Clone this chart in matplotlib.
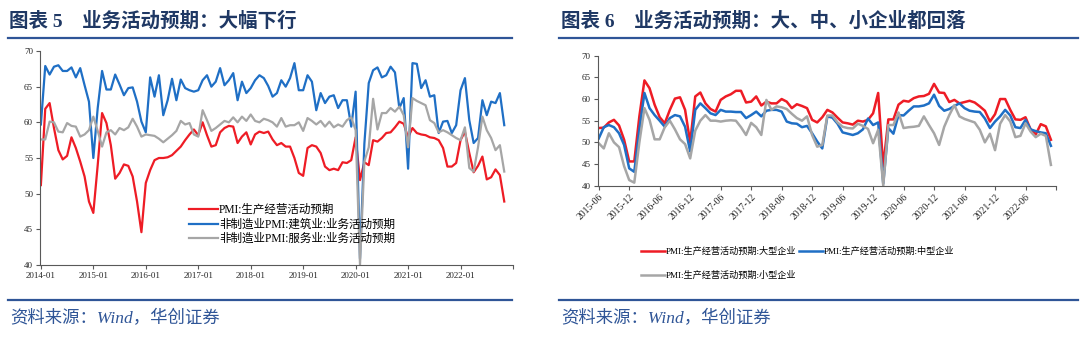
import matplotlib
matplotlib.use('Agg')
import matplotlib.pyplot as plt
import numpy as np

plt.rcParams['font.family'] = ['Liberation Serif', 'Noto Sans CJK SC']
plt.rcParams['axes.unicode_minus'] = False

# ---- left panel: 2014-01 .. 2022-11, monthly ----
left_ticks = ['2014-01', '2015-01', '2016-01', '2017-01', '2018-01',
              '2019-01', '2020-01', '2021-01', '2022-01']
pmi_expect = [51.2, 61.9, 62.7, 59.2, 56.1, 54.8, 55.3, 57.9, 56.4, 54.5, 52.4, 48.9, 47.3,
              54.0, 61.3, 59.9, 56.8, 52.1, 52.9, 54.1, 53.9, 52.4, 48.9, 44.6,
              51.5, 53.3, 54.7, 55.0, 55.0, 55.1, 55.4, 56.0, 56.6, 57.5, 58.3, 59.0,
              58.2, 60.0, 58.2, 56.6, 56.8, 58.6, 59.2, 59.5, 59.4, 57.1, 58.0, 58.6,
              56.9, 58.3, 58.7, 58.5, 58.7, 57.6, 56.8, 57.1, 56.6, 56.6, 55.0, 52.9,
              52.5, 56.4, 56.8, 56.6, 55.7, 53.8, 53.3, 53.5, 53.3, 54.4, 54.3, 54.7,
              57.9, 51.9, 54.4, 54.0, 57.5, 57.3, 57.8, 58.5, 58.6, 59.3, 60.1, 59.8,
              57.9, 59.2, 58.5, 58.3, 58.2, 57.9, 57.8, 57.5, 56.4, 53.8, 53.8, 54.3,
              57.5, 58.7, 55.7, 53.0, 53.9, 55.2, 52.0, 52.3, 53.4, 52.6, 48.9]
construction = [59.7, 67.9, 66.7, 67.8, 68.0, 67.2, 67.2, 67.7, 66.3, 67.6, 65.2, 62.9, 55.0,
                62.0, 67.2, 64.6, 64.6, 66.7, 65.3, 63.8, 64.8, 64.9, 62.9, 60.1,
                58.6, 66.3, 63.6, 66.6, 61.0, 63.1, 66.1, 63.1, 66.0, 64.8, 64.5, 64.3,
                64.5, 65.9, 66.6, 65.0, 65.7, 67.6, 65.2, 65.9, 66.9, 63.1, 65.7, 64.1,
                64.8, 65.9, 66.6, 66.2, 65.1, 63.6, 64.1, 65.9, 65.0, 66.2, 68.3, 64.5,
                64.5, 66.6, 65.7, 61.7, 64.1, 62.7, 63.6, 63.8, 62.0, 63.1, 63.1, 59.4,
                64.3, 40.9, 57.0, 65.5, 67.3, 67.7, 66.3, 66.6, 67.8, 67.0, 62.0, 63.4,
                53.5, 68.3, 68.2, 64.8, 65.9, 63.6, 63.8, 58.5, 60.1, 60.2, 58.5, 59.6,
                64.5, 66.2, 60.3, 57.1, 57.8, 63.1, 61.0, 62.9, 62.7, 64.1, 59.6]
services = [57.6, 57.6, 60.1, 60.0, 58.7, 58.6, 59.9, 59.5, 59.4, 58.0, 58.3, 58.9, 60.8,
            58.8, 56.6, 58.6, 58.9, 58.3, 59.2, 58.9, 59.3, 60.5, 59.4, 58.0,
            58.3, 58.2, 58.1, 57.7, 57.2, 57.7, 58.2, 58.8, 60.2, 59.7, 59.9, 58.3,
            58.0, 61.7, 60.3, 58.8, 59.2, 59.7, 60.2, 60.0, 60.7, 60.0, 60.8, 60.2,
            61.1, 60.2, 60.0, 60.5, 60.3, 60.0, 59.4, 60.6, 59.4, 59.6, 59.6, 60.0,
            58.8, 60.6, 60.2, 59.7, 60.2, 59.4, 60.1, 59.3, 59.7, 59.4, 60.3, 60.7,
            58.9, 40.0, 54.5, 56.5, 63.3, 59.0, 61.3, 61.3, 62.0, 61.5, 62.2, 61.0,
            56.5, 63.4, 63.0, 62.7, 62.4, 60.3, 59.9, 58.6, 58.9, 58.6, 58.2, 57.8,
            57.5, 59.3, 53.6, 53.1, 56.5, 60.8, 58.9, 57.8, 56.1, 56.8, 53.1]

# ---- right panel: 2015-06 .. 2022-11, monthly ----
right_ticks = ['2015-06', '2015-12', '2016-06', '2016-12', '2017-06', '2017-12', '2018-06',
               '2018-12', '2019-06', '2019-12', '2020-06', '2020-12', '2021-06', '2021-12',
               '2022-06']
large = [53.3, 53.4, 54.6, 55.2, 53.9, 50.6, 45.6, 45.6, 56.0, 64.3, 62.5, 58.7,
         55.8, 54.4, 57.5, 60.1, 60.4, 57.5, 50.0, 60.6, 61.5, 59.0, 57.7, 57.1,
         59.8, 60.6, 61.1, 61.9, 61.9, 59.2, 59.4, 60.6, 58.5, 59.4, 59.0, 59.0,
         60.0, 59.4, 57.9, 58.8, 58.4, 57.9, 55.2, 54.6, 55.8, 57.5, 56.9, 55.7,
         54.6, 54.4, 54.1, 55.0, 54.8, 55.2, 56.7, 61.4, 44.4, 55.3, 55.3, 58.7,
         59.6, 59.4, 60.2, 60.6, 60.7, 61.2, 63.5, 61.5, 61.4, 59.3, 59.8, 59.0,
         59.3, 59.6, 59.2, 58.3, 57.3, 54.8, 56.5, 60.0, 60.0, 57.5, 55.3, 55.2,
         55.8, 53.0, 51.8, 54.2, 53.7, 50.6]
medium = [50.9, 53.5, 54.0, 53.5, 52.1, 49.4, 44.0, 43.2, 53.0, 61.4, 57.9, 56.3,
          55.0, 53.6, 55.6, 56.3, 56.0, 53.6, 47.9, 57.5, 59.0, 57.9, 56.7, 56.3,
          57.5, 57.1, 57.1, 57.0, 57.0, 55.6, 56.3, 57.1, 56.0, 57.3, 57.5, 57.5,
          57.1, 54.8, 54.4, 54.3, 53.5, 53.8, 52.1, 50.2, 48.6, 56.0, 55.7, 54.3,
          52.3, 52.0, 51.7, 52.1, 53.0, 55.5, 54.0, 54.6, 40.5, 53.3, 52.0, 56.3,
          56.2, 57.3, 58.3, 58.3, 58.5, 59.0, 61.0, 58.4, 57.3, 57.7, 58.4, 59.0,
          57.9, 57.3, 57.1, 57.0, 55.5, 53.3, 54.8, 56.0, 57.5, 56.2, 53.5, 53.3,
          55.2, 53.0, 52.6, 52.3, 52.1, 49.2]
small = [49.8, 48.6, 52.1, 50.0, 48.9, 44.5, 41.3, 40.7, 50.0, 57.9, 55.2, 50.7,
         50.7, 53.5, 55.0, 53.0, 50.7, 49.6, 46.3, 52.7, 55.0, 56.3, 55.0, 55.0,
         54.8, 55.0, 55.1, 55.0, 53.5, 51.7, 54.5, 53.5, 51.7, 59.8, 57.5, 58.3,
         58.1, 57.7, 56.6, 55.6, 55.0, 56.0, 51.7, 49.0, 49.4, 56.2, 56.2, 54.6,
         53.6, 53.3, 53.2, 54.3, 53.8, 53.1, 49.8, 52.9, 40.0, 54.0, 54.0, 56.9,
         53.3, 53.5, 53.6, 53.8, 56.0, 54.0, 52.1, 49.4, 53.6, 56.3, 58.6, 56.0,
         55.4, 55.0, 54.6, 52.9, 50.0, 52.0, 48.2, 54.3, 56.3, 54.8, 51.2, 51.5,
         54.4, 52.5, 51.2, 52.0, 51.5, 44.8]

RED = '#ee1c25'
BLUE = '#1f6fc5'
GRAY = '#a6a6a6'
NAVY = '#1f3864'
LINE_BLUE = '#2f5597'
AXC = '#595959'

fig = plt.figure(figsize=(10.8, 3.49), dpi=100)
W, H = 1080.0, 349.0

def fx(px):
    return px / W

def fy(py):
    return 1 - py / H

def style_axes(ax):
    ax.spines['top'].set_visible(False)
    ax.spines['right'].set_visible(False)
    for s in ['left', 'bottom']:
        ax.spines[s].set_color(AXC)
        ax.spines[s].set_linewidth(0.8)
    ax.tick_params(direction='out', length=3, width=0.8, colors=AXC,
                   labelcolor='#262626', labelsize=6.5, pad=2)
    ax.set_ylim(40, 70)
    ax.set_yticks(np.arange(40, 71, 5))

# left chart
ax1 = fig.add_axes([fx(40), fy(265), fx(513 - 40), (265 - 51) / H])
x1 = np.arange(len(pmi_expect))
ax1.plot(x1, pmi_expect, color=RED, lw=1.6, label='PMI:生产经营活动预期')
ax1.plot(x1, construction, color=BLUE, lw=1.6, label='非制造业PMI:建筑业:业务活动预期')
ax1.plot(x1, services, color=GRAY, lw=1.6, label='非制造业PMI:服务业:业务活动预期')
style_axes(ax1)
ax1.set_xlim(-0.2, 108)
ax1.set_xticks(list(range(0, 97, 12)) + [108])
ax1.set_xticklabels(left_ticks + [''])
ax1.legend(loc='upper left', bbox_to_anchor=(fx(189), fy(204)), bbox_transform=fig.transFigure,
           frameon=False, fontsize=8.3, handlelength=2.5, handletextpad=0.1,
           labelspacing=0.22, borderpad=0, borderaxespad=0)

# right chart
ax2 = fig.add_axes([fx(597.7), fy(185.7), fx(1056 - 597.7), 130 / H])
x2 = np.arange(len(large))
l1, = ax2.plot(x2, large, color=RED, lw=1.8)
l2, = ax2.plot(x2, medium, color=BLUE, lw=1.8)
l3, = ax2.plot(x2, small, color=GRAY, lw=1.8)
style_axes(ax2)
ax2.set_xlim(-0.2, 90)
ax2.set_xticks(list(range(0, 85, 6)) + [90])
ax2.set_xticklabels(right_ticks + [''], rotation=45, ha='right', rotation_mode='anchor',
                    fontsize=7)
fig.legend([l1, l3, l2], ['PMI:生产经营活动预期:大型企业', 'PMI:生产经营活动预期:小型企业',
                          'PMI:生产经营活动预期:中型企业'],
           loc='upper left', bbox_to_anchor=(fx(641), fy(247)), ncol=2,
           frameon=False, fontsize=6.6, handlelength=2.6, handletextpad=0.1,
           labelspacing=1.6, columnspacing=0.3, borderpad=0, borderaxespad=0)

# headers and footers
fig.text(fx(9), fy(21), '图表 5    业务活动预期：大幅下行', fontsize=14, fontweight='bold',
         color=NAVY, va='center', ha='left')
fig.text(fx(561), fy(21), '图表 6    业务活动预期：大、中、小企业都回落', fontsize=14,
         fontweight='bold', color=NAVY, va='center', ha='left')
for x0, x1_ in [(8, 512), (559, 1078)]:
    fig.add_artist(plt.Line2D([fx(x0), fx(x1_)], [fy(38), fy(38)], color=LINE_BLUE, lw=1.6))
    fig.add_artist(plt.Line2D([fx(x0), fx(x1_)], [fy(300), fy(300)], color=LINE_BLUE, lw=1.6))
    fig.text(fx(x0 + 2), fy(319), '资料来源：Wind，华创证券', fontsize=12.5, fontstyle='italic',
             color=LINE_BLUE, va='center', ha='left')

fig.savefig('out.png', dpi=100)
